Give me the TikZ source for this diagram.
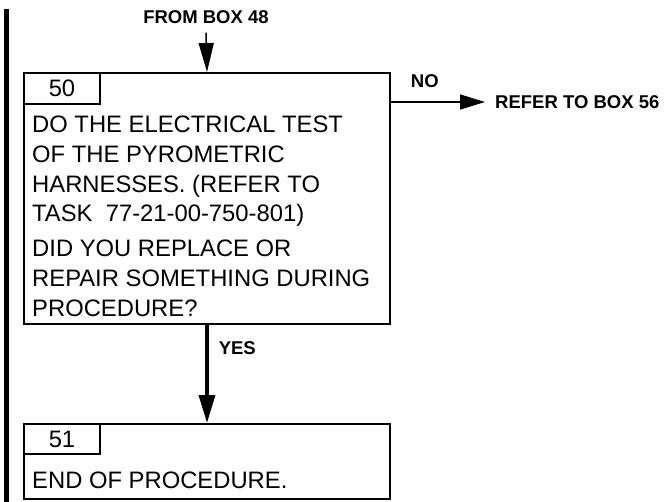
\documentclass[tikz,border=0pt]{standalone}
\usepackage{fontspec}
\setmainfont{Liberation Sans}
\usetikzlibrary{positioning, arrows.meta}

\begin{document}
\begin{tikzpicture}[
    x=1pt, y=-1pt,
    boxfont/.style={font=\fontsize{23.8}{29.7}\selectfont},
    tagfont/.style={font=\bfseries\fontsize{18.5}{22}\selectfont},
    stepbox/.style={rectangle, draw=black, line width=2pt, minimum width=366pt, inner sep=0pt, anchor=north west},
    numtab/.style={rectangle, draw=black, line width=2pt, minimum width=76pt, minimum height=31pt, inner sep=0pt, anchor=north west, boxfont},
    steptext/.style={anchor=north west, inner sep=0pt, align=left, boxfont},
    thinarrow/.style={-{Triangle[length=29pt, width=15pt]}, line width=1.5pt},
    thickarrow/.style={-{Triangle[length=28pt, width=16pt]}, line width=3.5pt}
  ]
  \useasboundingbox (0,0) rectangle (669,502);

  % change bar
  \fill (4,9) rectangle (9,502);

  % Box 50
  \node[stepbox, minimum height=251pt] (box50) at (23,72) {};
  \node[numtab] (tab50) at (box50.north west) {50};
  \node[steptext] (text50) at (32,116) {DO THE ELECTRICAL TEST\\OF THE PYROMETRIC\\HARNESSES. (REFER TO\\TASK\ \ 77-21-00-750-801)\\[5.3pt]DID YOU REPLACE OR\\REPAIR SOMETHING DURING\\PROCEDURE?};

  % Box 51
  \node[stepbox, minimum height=75pt] (box51) at (23,423) {};
  \node[numtab, minimum height=30pt] (tab51) at (box51.north west) {51};
  \node[steptext] (text51) at (32,472) {END OF PROCEDURE.};

  % in / out
  \node[tagfont, inner ysep=9pt] (from48) at (206,17) {FROM BOX 48};
  \node[tagfont, anchor=west, inner xsep=10pt] (refer56) at (485,102) {REFER TO BOX 56};

  \draw[thinarrow] (from48.south) -- (box50.north);
  \draw[thinarrow, -{Triangle[length=25pt, width=15pt]}] (box50.east |- refer56.west) -- node[pos=0.36, above=14pt, inner sep=0pt, tagfont] {NO} (refer56.west);
  \draw[thickarrow] (box50.south) -- node[pos=0.24, right=10pt, inner sep=0pt, tagfont] {YES} (box51.north);

\end{tikzpicture}
\end{document}
